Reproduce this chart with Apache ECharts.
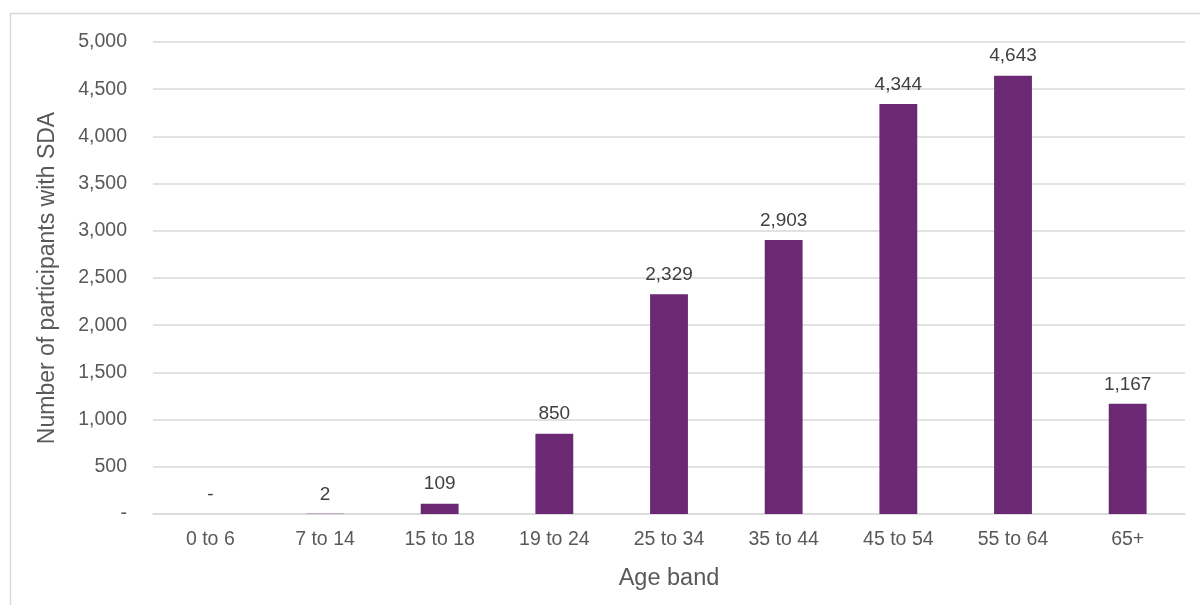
<!DOCTYPE html>
<html>
<head>
<meta charset="utf-8">
<script src="https://cdn.jsdelivr.net/npm/echarts@6/dist/echarts.min.js"></script>
<style>
html,body{margin:0;padding:0;background:#fff;}
#chart{width:1200px;height:605px;}
</style>
</head>
<body>
<div id="chart"></div>
<script>
const categories = ['0 to 6','7 to 14','15 to 18','19 to 24','25 to 34','35 to 44','45 to 54','55 to 64','65+'];
const participants = [0, 2, 109, 850, 2329, 2903, 4344, 4643, 1167];
const xAxisTitle = 'Age band';
const yAxisTitle = 'Number of participants with SDA';

const fmt = v => (v === 0 ? '-' : Number(v).toLocaleString('en-US'));
const font = 'Liberation Sans, Arial, sans-serif';
const txt = '#595959';

const chart = echarts.init(document.getElementById('chart'));
chart.setOption({
  animation: false,
  graphic: [{
    type: 'rect',
    left: 8, top: 11,
    shape: { width: 1250, height: 700 },
    style: { fill: 'none', stroke: '#d9d9d9', lineWidth: 1.5 },
    silent: true
  }],
  grid: { left: 153, right: 15, top: 42, bottom: 91 },
  xAxis: {
    type: 'category',
    data: categories,
    name: xAxisTitle,
    nameLocation: 'middle',
    nameGap: 53,
    nameTextStyle: { color: txt, fontSize: 23.5, fontFamily: font },
    axisLine: { show: true, lineStyle: { color: '#d9d9d9', width: 1.5 } },
    axisTick: { show: false },
    axisLabel: { color: txt, fontSize: 19.5, fontFamily: font, margin: 16, interval: 0 }
  },
  yAxis: {
    type: 'value',
    min: 0, max: 5000, interval: 500,
    name: yAxisTitle,
    nameLocation: 'middle',
    nameGap: 94,
    nameTextStyle: { color: txt, fontSize: 23, fontFamily: font },
    axisLine: { show: false },
    axisTick: { show: false },
    splitLine: { lineStyle: { color: '#d9d9d9', width: 1.5 } },
    axisLabel: { color: txt, fontSize: 19.5, fontFamily: font, margin: 26, formatter: fmt }
  },
  series: [{
    type: 'bar',
    data: participants,
    barWidth: '33%',
    barMinHeight: 0,
    itemStyle: { color: '#6b2873' },
    label: {
      show: true,
      position: 'top',
      distance: 10,
      color: '#404040',
      fontSize: 19,
      fontFamily: font,
      formatter: p => fmt(p.value)
    }
  }]
});
</script>
</body>
</html>
